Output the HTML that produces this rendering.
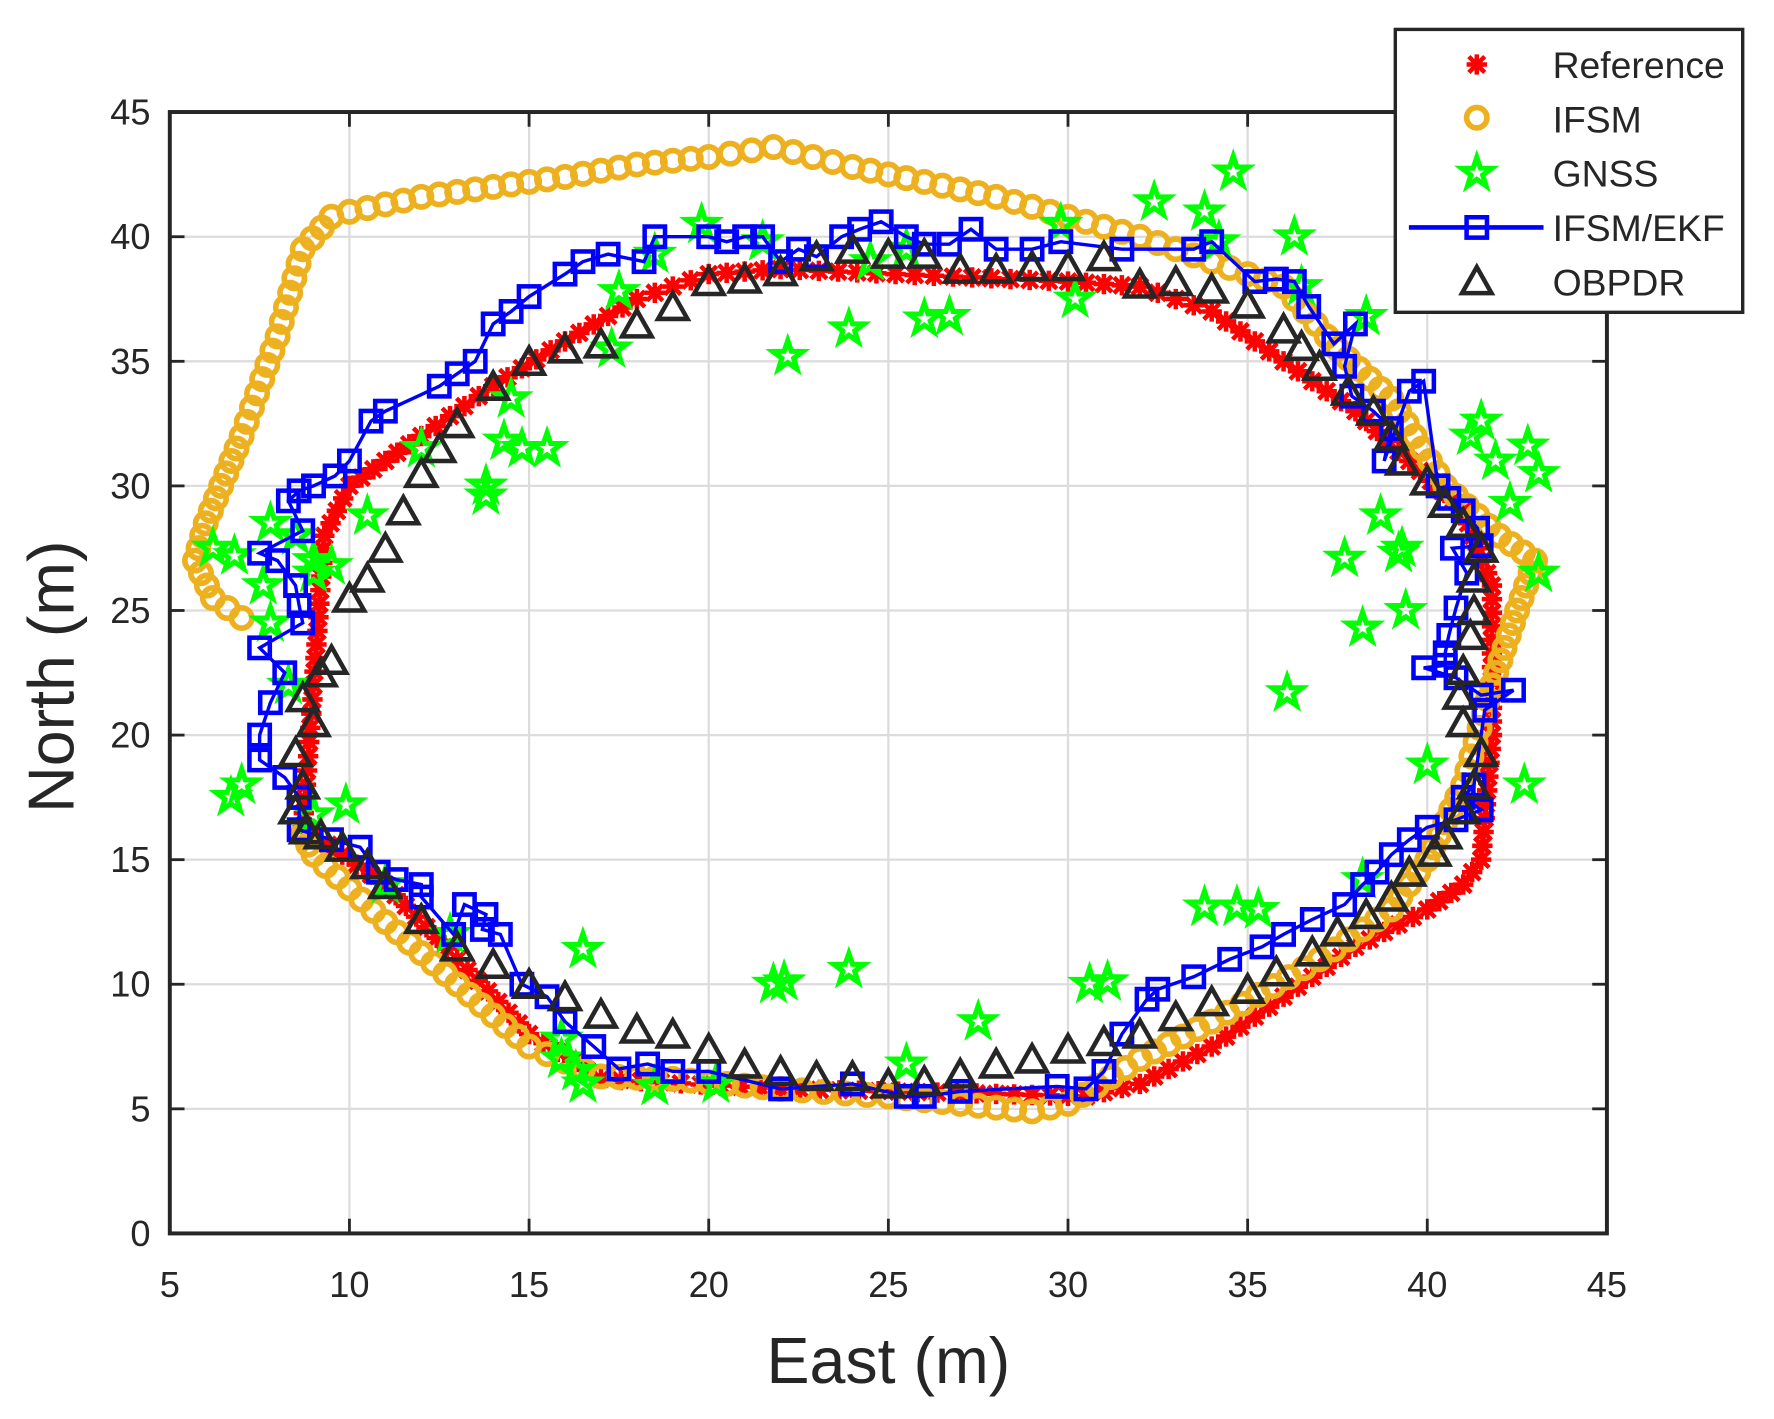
<!DOCTYPE html>
<html><head><meta charset="utf-8"><style>html,body{margin:0;padding:0;background:#fff}svg{display:block}text{font-family:"Liberation Sans",Arial,sans-serif;fill:#262626}</style></head>
<body>
<svg id="s" xmlns="http://www.w3.org/2000/svg" width="1774" height="1419" viewBox="0 0 1567.6 1254">
<rect x="0" y="0" width="1567.6" height="1254" fill="#fff"/>
<g id="grid" stroke="#dcdcdc" stroke-width="2"></g>
<g id="data"></g>
<g id="axes"></g>
<text x="785" y="1222" font-size="57" text-anchor="middle">East (m)</text>
<text transform="translate(65,598) rotate(-90)" font-size="57" text-anchor="middle">North (m)</text>
<g id="legend">
<rect x="1233" y="26" width="307" height="250" fill="#fff" stroke="#262626" stroke-width="3"/>
<text x="1372" y="69" font-size="33" fill="#000">Reference</text>
<text x="1372" y="117" font-size="33" fill="#000">IFSM</text>
<text x="1372" y="165" font-size="33" fill="#000">GNSS</text>
<text x="1372" y="213" font-size="33" fill="#000">IFSM/EKF</text>
<text x="1372" y="261" font-size="33" fill="#000">OBPDR</text>
<line x1="1245" y1="201" x2="1364" y2="201" stroke="#0000ff" stroke-width="4"/>
</g>
</svg>
<script>
var NS="http://www.w3.org/2000/svg";
function X(v){return 150+(v-5)*31.75;}
function Y(v){return 1090-v*22.02;}
function el(p,t,a){var e=document.createElementNS(NS,t);for(var k in a)e.setAttribute(k,a[k]);p.appendChild(e);return e;}
var G=document.getElementById('grid'),D=document.getElementById('data'),A=document.getElementById('axes'),S=document.getElementById('s'),L=document.getElementById('legend');
for(var i=5;i<=45;i+=5){el(G,'line',{x1:X(i),y1:99,x2:X(i),y2:1090});}
for(var j=0;j<=45;j+=5){el(G,'line',{x1:150,y1:Y(j),x2:1420,y2:Y(j)});}
el(A,'rect',{x:150,y:99,width:1270,height:991,fill:'none',stroke:'#262626','stroke-width':3.5});
for(var i=5;i<=45;i+=5){el(A,'line',{x1:X(i),y1:1090,x2:X(i),y2:1077,stroke:'#262626','stroke-width':2.5});el(A,'line',{x1:X(i),y1:99,x2:X(i),y2:112,stroke:'#262626','stroke-width':2.5});
var t=el(S,'text',{x:X(i),y:1146,'font-size':32,'text-anchor':'middle'});t.textContent=i;}
for(var j=0;j<=45;j+=5){el(A,'line',{x1:150,y1:Y(j),x2:163,y2:Y(j),stroke:'#262626','stroke-width':2.5});el(A,'line',{x1:1420,y1:Y(j),x2:1407,y2:Y(j),stroke:'#262626','stroke-width':2.5});
var t=el(S,'text',{x:133,y:Y(j)+11,'font-size':32,'text-anchor':'end'});t.textContent=j;}
function interp(pts,step){var out=[];for(var k=0;k<pts.length-1;k++){var a=pts[k],b=pts[k+1];var d=Math.hypot(b[0]-a[0],b[1]-a[1]);var n=Math.max(1,Math.round(d/step));for(var m=0;m<n;m++){out.push([a[0]+(b[0]-a[0])*m/n,a[1]+(b[1]-a[1])*m/n]);}}out.push(pts[pts.length-1]);return out;}
function ast(g,x,y){var r=9;el(g,'path',{d:'M'+(x-r)+' '+y+'H'+(x+r)+'M'+x+' '+(y-r)+'V'+(y+r)+'M'+(x-7)+' '+(y-7)+'L'+(x+7)+' '+(y+7)+'M'+(x-7)+' '+(y+7)+'L'+(x+7)+' '+(y-7),stroke:'#ff0000','stroke-width':4,fill:'none'});}
function circ(g,x,y){el(g,'circle',{cx:x,cy:y,r:9,fill:'none',stroke:'#edb120','stroke-width':5});}
function star(g,x,y){var p=[];for(var k=0;k<10;k++){var r=k%2?5.5:14;var a=-Math.PI/2+k*Math.PI/5;p.push((x+r*Math.cos(a)).toFixed(1)+','+(y+r*Math.sin(a)).toFixed(1));}el(g,'polygon',{points:p.join(' '),fill:'none',stroke:'#00ff00','stroke-width':4.5});}
function sq(g,x,y){el(g,'rect',{x:x-9,y:y-9,width:18,height:18,fill:'none',stroke:'#0000ff','stroke-width':4});}
function tri(g,x,y){el(g,'polygon',{points:x+','+(y-12)+' '+(x-13)+','+(y+11)+' '+(x+13)+','+(y+11),fill:'none',stroke:'#262626','stroke-width':4});}
var ref=[[8.7,16.3],[9,22],[9.3,28],[10,30],[11,31],[12,32],[14,34],[16,35.8],[18,37.5],[20,38.5],[22,38.7],[30,38.2],[32,38],[34,37],[36,35],[38,33],[39.5,31],[41,29],[41.8,26],[41.8,20],[41.5,15],[41,14],[40,13],[38,11.5],[36,9.5],[34,7.5],[32,6],[30.5,5.5],[28,5.6],[22,5.8],[17,6.2],[15,8],[13,11],[11,14],[9,16],[8.7,16.3]];
var ifsm=[[7,24.7],[6.2,25.5],[5.7,27],[6,28.5],[7,32],[8,36],[8.7,39.5],[9.5,40.8],[10,41],[12,41.6],[14,42],[16,42.4],[18,42.9],[20,43.2],[21.8,43.6],[24,42.8],[26,42.2],[28,41.6],[30,40.8],[32,40],[34,39],[36,38],[37.5,35.5],[39,33.5],[40.5,30],[42,28],[43,27],[42.5,25],[41.8,22],[41,18],[40,15],[39,13],[37,11],[34,8.5],[32,7],[30,5.2],[29,4.9],[27,5.2],[25,5.5],[22,5.8],[19,6.2],[17,6.3],[15,7.5],[13,10],[11,12.5],[9,15.2],[8.7,16]];
var gnss=[[6.2,27.5],[6.8,27.2],[7.6,26],[7.8,24.5],[8.3,22],[6.7,17.5],[7,18],[9,16.8],[9.9,17.2],[9,27],[9.5,26.8],[10.5,28.8],[12,31.5],[13.8,30],[13.8,29.6],[14.3,31.8],[14.8,31.5],[15.5,31.5],[14.5,33.5],[17.3,35.5],[17.5,37.8],[18.5,39.3],[19.8,40.5],[21.5,39.8],[22.2,35.2],[23.9,36.3],[24.5,39],[25.5,39.5],[26,36.7],[26.7,36.8],[30.2,37.5],[29.8,40.5],[32.4,41.4],[33.8,41],[34.6,42.6],[34.2,39.8],[36.3,40],[36.5,38],[38.3,36.8],[37.7,27.1],[38.2,24.3],[38.7,28.8],[39.3,27.5],[39.2,27.3],[39.4,25],[40,18.8],[36.1,21.7],[41.2,32],[41.5,32.6],[41.9,31],[42.8,31.6],[43.1,30.5],[42.3,29.3],[43.1,26.5],[42.7,18],[38.2,14.2],[35.3,13],[34.7,13.1],[33.8,13.1],[31.1,10.1],[30.6,10],[27.5,8.5],[25.5,6.8],[23.9,10.6],[22.1,10.1],[21.8,10],[16.5,11.4],[16.5,6],[15.9,7],[15.9,7.8],[18.5,5.9],[20.2,6],[16.3,6.5],[11,14],[12.8,12],[8.5,28],[7.8,28.5],[9,26.5]];
var ekf=[[8.6,17.5],[8.2,18.3],[7.5,19],[7.5,20],[7.8,21.3],[8.2,22.5],[7.5,23.5],[8.7,24.5],[8.6,25.2],[8.5,26],[8,27],[7.5,27.3],[8.7,28.2],[8.3,29.4],[8.6,29.8],[9,30],[9.6,30.4],[10,31],[10.6,32.6],[11,33],[12.5,34],[13,34.5],[13.5,35],[14,36.5],[14.5,37],[15,37.6],[16,38.5],[16.5,39],[17.2,39.3],[18.2,39],[18.5,40],[20,40],[20.5,39.8],[21,40],[21.5,40],[22,39],[22.5,39.5],[23,39.2],[23.7,40],[24.2,40.3],[24.8,40.6],[25.5,40],[26,39.7],[26.7,39.7],[27.3,40.3],[28,39.5],[29,39.5],[29.8,39.8],[31.5,39.5],[33.5,39.5],[34,39.8],[35.2,38.2],[35.8,38.3],[36.3,38.2],[36.7,37.2],[37.4,35.7],[38,36.5],[37.7,34.8],[37.9,33.6],[38.5,33],[39,32.3],[38.8,31],[39.5,33.8],[39.9,34.2],[40.3,30],[40.6,29.5],[41,29],[41.4,28.3],[41.5,27.6],[40.7,27.5],[41.1,26.5],[40.8,25.1],[40.6,24],[40.5,23.3],[40.5,22.8],[39.9,22.7],[40.8,22.3],[41.5,21.6],[42.4,21.8],[41.6,21],[41.3,18],[41,17.5],[41.5,17],[40.8,16.6],[40,16.3],[39.5,15.8],[39,15.2],[38.6,14.5],[38.2,14],[37.7,13.2],[36.8,12.6],[36,12],[35.4,11.5],[34.5,11],[33.5,10.3],[32.5,9.8],[32.2,9.4],[31.5,8],[31,6.5],[30.5,5.8],[29.7,5.9],[27,5.7],[26,5.5],[25.5,5.5],[24,6],[22,5.8],[20,6.5],[19,6.5],[18.3,6.8],[17.5,6.6],[16.8,7.5],[16,8.5],[15.5,9.5],[14.8,10],[14.2,12],[13.7,12.2],[13.8,12.8],[13.2,13.2],[12.9,12],[12,13.5],[12,14],[11.3,14.2],[10.8,14.5],[10.3,15.5],[9.5,15.8],[8.6,16.2],[8.6,17.5]];
var obp=[[8.8,16.2],[8.5,17],[8.7,18],[8.5,19.3],[9,20.5],[8.7,21.5],[9.2,22.5],[9.5,23],[10,25.5],[10.5,26.3],[11,27.5],[11.5,29],[12,30.5],[12.5,31.5],[13,32.5],[14,34],[15,35],[16,35.5],[17,35.7],[18,36.5],[19,37.2],[20,38.2],[21,38.3],[22,38.6],[23,39.2],[24,39.5],[25,39.3],[26,39.3],[27,38.7],[28,38.7],[29,38.8],[30,38.8],[31,39.2],[32,38.1],[33,38.2],[34,37.9],[35,37.3],[36,36.3],[36.5,35.6],[37,34.8],[37.8,33.8],[38.5,33],[39,32],[39.3,31],[40,30.2],[40.5,29.3],[41,28.5],[41.5,27.5],[41.3,26.3],[41.3,25],[41.2,24],[41,22.6],[40.9,21.6],[41,20.5],[41.5,19.3],[41.3,18],[41,17],[40.5,16],[40.2,15.3],[39.5,14.5],[39,13.5],[38.3,12.8],[37.5,12.1],[36.8,11.3],[35.8,10.5],[35,9.8],[34,9.3],[33,8.7],[32,8],[31,7.7],[30,7.4],[29,7],[28,6.8],[27,6.4],[26,6.1],[25,6],[24,6.3],[23,6.3],[22,6.5],[21,6.8],[20,7.4],[19,8],[18,8.2],[17,8.8],[16,9.5],[15,10],[14,10.8],[13,11.5],[12,12.6],[11,14],[10.5,14.8],[9.8,15.5],[9.2,16],[8.8,16.2]];
var g1=el(D,'g',{}),g2=el(D,'g',{}),g3=el(D,'g',{}),g4=el(D,'g',{}),g5=el(D,'g',{});
interp(ref,0.55).forEach(function(p){ast(g1,X(p[0]),Y(p[1]));});
interp(ifsm,0.55).forEach(function(p){circ(g2,X(p[0]),Y(p[1]));});
gnss.forEach(function(p){star(g3,X(p[0]),Y(p[1]));});
el(g4,'polyline',{points:ekf.map(function(p){return X(p[0])+','+Y(p[1]);}).join(' '),fill:'none',stroke:'#0000ff','stroke-width':3});
ekf.forEach(function(p){sq(g4,X(p[0]),Y(p[1]));});
obp.forEach(function(p){tri(g5,X(p[0]),Y(p[1]));});
ast(L,1305,57);circ(L,1305,104);star(L,1305,153);sq(L,1305,201);tri(L,1305,248);
</script>
</body></html>
